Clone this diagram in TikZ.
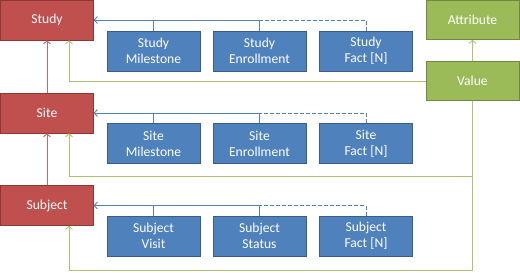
\documentclass[tikz,border=0pt]{standalone}
\usepackage{fontspec}
\setmainfont{Carlito}
\usetikzlibrary{arrows.meta}
\definecolor{rojo}{HTML}{C0504D}
\definecolor{rojoborde}{HTML}{8C3836}
\definecolor{azul}{HTML}{4F81BD}
\definecolor{azulborde}{HTML}{385D8A}
\definecolor{verde}{HTML}{9BBB59}
\definecolor{verdeborde}{HTML}{71893F}
\begin{document}
\begin{tikzpicture}[x=1pt, y=-1pt,
        every node/.style={align=center, text=white, font=\fontsize{13.6}{16}\selectfont, inner sep=2pt, line width=0.6pt},
        entidad/.style={fill=rojo, draw=rojoborde, minimum width=93pt, minimum height=40pt},
        detalle/.style={fill=azul, draw=azulborde, minimum width=93pt, minimum height=40pt},
        atributo/.style={fill=verde, draw=verdeborde, minimum width=93pt, minimum height=39pt},
        flecha/.style={-{Straight Barb[length=3pt, width=7pt]}, line width=0.9pt},
        azulflecha/.style={flecha, draw=azul},
        verdeflecha/.style={flecha, draw=verde!85},
        rojoflecha/.style={flecha, draw=rojo!85},
        guion/.style={draw=azul, line width=0.9pt, dash pattern=on 4pt off 2pt}
    ]
    \useasboundingbox (0,0) rectangle (520,273);
    \node[entidad] (Study) at (47,20) {Study};
    \node[entidad] (Site) at (47,113) {Site};
    \node[entidad] (Subject) at (47,205.5) {Subject};
    \node[detalle] (SM) at (153.5,51) {Study\\Milestone};
    \node[detalle] (SE) at (259.5,51) {Study\\Enrollment};
    \node[detalle] (SF) at (366,51) {Study\\Fact [N]};
    \node[detalle] (TM) at (153.5,143.5) {Site\\Milestone};
    \node[detalle] (TE) at (259.5,143.5) {Site\\Enrollment};
    \node[detalle] (TF) at (366,143.5) {Site\\Fact [N]};
    \node[detalle] (JV) at (153.5,236) {Subject\\Visit};
    \node[detalle] (JS) at (259.5,236) {Subject\\Status};
    \node[detalle] (JF) at (366,236) {Subject\\Fact [N]};
    \node[atributo] (Attribute) at (472.5,20) {Attribute};
    \node[atributo] (Value) at (472.5,81) {Value};
    \coordinate (g2) at (472.5,176);
    \coordinate (g3) at (472.5,270);

    \draw[azulflecha] (SE.north) |- (Study.east);
    \draw[azul, line width=0.9pt] (SM.north) -- (SM.north |- Study.east);
    \draw[guion] (SF.north) |- (SE.north |- Study.east);
    \draw[azulflecha] (TE.north) |- (Site.east);
    \draw[azul, line width=0.9pt] (TM.north) -- (TM.north |- Site.east);
    \draw[guion] (TF.north) |- (TE.north |- Site.east);
    \draw[azulflecha] (JS.north) |- (Subject.east);
    \draw[azul, line width=0.9pt] (JV.north) -- (JV.north |- Subject.east);
    \draw[guion] (JF.north) |- (JS.north |- Subject.east);

    \draw[rojoflecha] (Site.north) -- (Study.south);
    \draw[rojoflecha] (Subject.north) -- (Site.south);

    \draw[verdeflecha] (Value.north) -- (Attribute.south);
    \draw[verdeflecha] (Value.west) -| ([xshift=22pt]Study.south);
    \draw[verdeflecha] (Value.south) -- (g3) -| ([xshift=22pt]Subject.south);
    \draw[verdeflecha] (g2) -| ([xshift=22pt]Site.south);
\end{tikzpicture}
\end{document}
